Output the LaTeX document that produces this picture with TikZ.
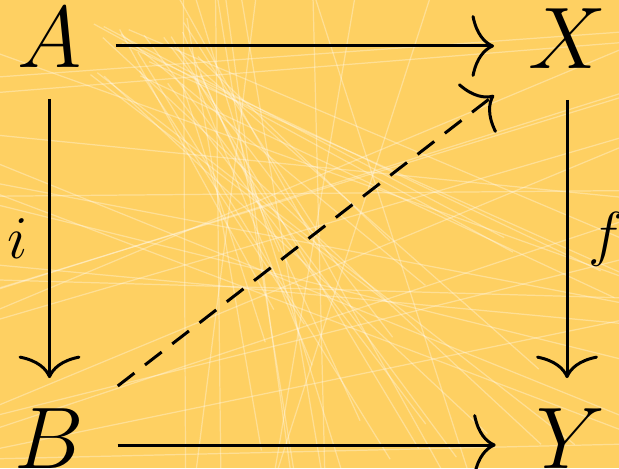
\documentclass[tikz,border=0pt]{standalone}
\usetikzlibrary{arrows.meta, positioning, calc}
\definecolor{sunbg}{RGB}{254,208,98}
\tikzset{
	obj/.style={inner xsep=0.34cm, inner ysep=0.31cm, outer sep=0pt, font=\fontsize{23.3}{28}\selectfont},
	lbl/.style={inner sep=0.2cm, font=\fontsize{15.9}{19}\selectfont},
	arrow/.style={-{Computer Modern Rightarrow[length=6.4pt, width=17.6pt]}, line width=0.85pt},
	dasharrow/.style={arrow, dash pattern=on 6pt off 3.8pt},
	streak/.style={draw=white, opacity=0.33, line width=0.35pt},
}

\begin{document}
\begin{tikzpicture}
	\fill[sunbg] (0,0) rectangle (6.19,4.68);
	\useasboundingbox (0,0) rectangle (6.19,4.68);
	\begin{scope}
		\clip (0,0) rectangle (6.19,4.68);
		\pgfmathsetseed{7}
		\foreach \k in {1,...,26}{
			\pgfmathsetmacro{\xa}{0.9+1.2*rnd}\pgfmathsetmacro{\ya}{3.8+0.7*rnd}
			\pgfmathsetmacro{\xb}{2.5+4.0*rnd}\pgfmathsetmacro{\yb}{-0.2+2.6*rnd}
			\draw[streak] (\xa,\ya) -- (\xb,\yb);
		}
		\foreach \k in {1,...,12}{
			\pgfmathsetmacro{\xa}{1.5+3.2*rnd}\pgfmathsetmacro{\xb}{1.8+3.0*rnd}
			\draw[streak] (\xa,4.8) -- (\xb,-0.1);
		}
		\foreach \k in {1,...,20}{
			\pgfmathsetmacro{\ya}{4.7*rnd}\pgfmathsetmacro{\yb}{4.9*rnd}
			\draw[streak] (-0.1,\ya) -- (6.3,\yb);
		}
	\end{scope}
	\node[obj] (A) at (0.495,4.30) {$A$};
	\node[obj] (X) at (5.67,4.29) {$X$};
	\node[obj] (B) at (0.49,0.29) {$B$};
	\node[obj] (Y) at (5.71,0.29) {$Y$};
	\draw[arrow] ([yshift=-0.08cm]A.east) -- ([yshift=-0.08cm]A.east -| X.west);
	\draw[arrow] (A.south) -- node[lbl, left] {$i$} (A.south |- B.north);
	\draw[arrow] (X.south) -- node[lbl, right] {$f$} (X.south |- Y.north);
	\draw[arrow] ([yshift=-0.06cm]B.east) -- ([yshift=-0.06cm,xshift=-0.07cm]B.east -| Y.west);
	\draw[dasharrow] (B) -- (X);
\end{tikzpicture}
\end{document}
